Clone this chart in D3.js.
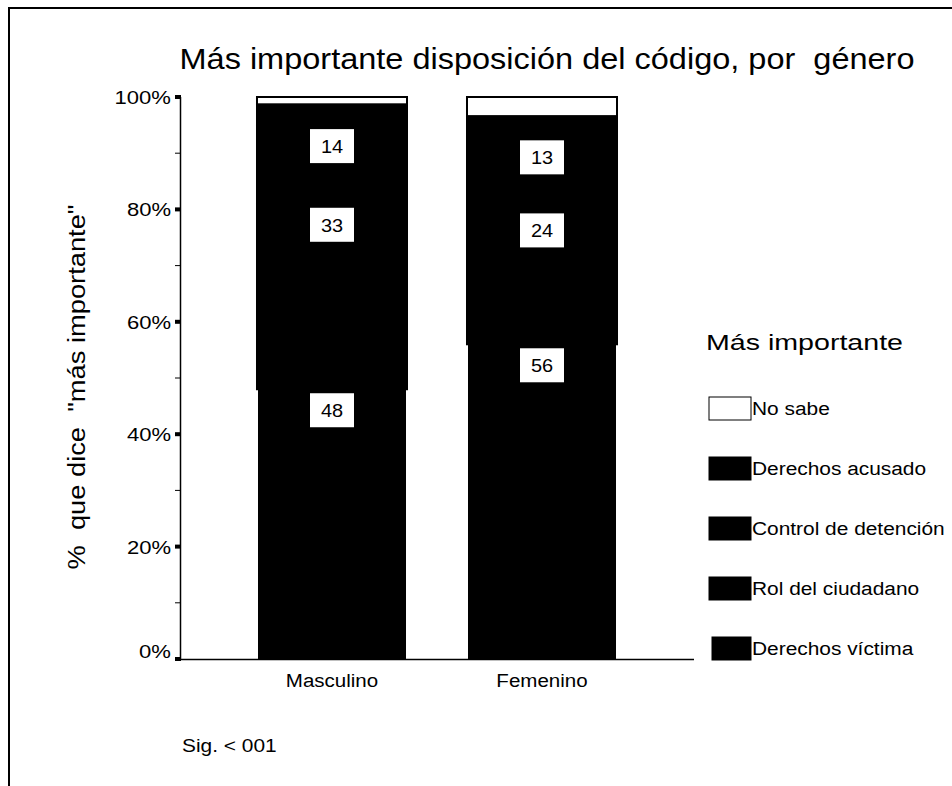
<!DOCTYPE html>
<html><head><meta charset="utf-8">
<script src="https://cdn.jsdelivr.net/npm/d3@7"></script>
<style>body{margin:0;background:#fff}svg{display:block}text{font-family:"Liberation Sans",Arial,sans-serif;fill:#000;white-space:pre}</style>
</head><body>
<svg id="c" width="952" height="786"></svg>
<script>
const categories = ["Masculino", "Femenino"];
const seriesNames = ["Derechos víctima", "Rol del ciudadano", "Control de detención", "Derechos acusado", "No sabe"];
const derechosVictima = [48, 56];
const rolCiudadano = [33, 24];
const controlDetencion = [14, 13];
const derechosAcusado = [3.7, 3.6];
const noSabe = [1.3, 3.4];
const seriesColors = ["#000", "#000", "#000", "#000", "#fff"];
const labeledSeries = [0, 1, 2];
const yTicks = [0, 20, 40, 60, 80, 100];
const yMinorTicks = [10, 30, 50, 70, 90];
const legendOrder = ["No sabe", "Derechos acusado", "Control de detención", "Rol del ciudadano", "Derechos víctima"];

const seriesValues = [derechosVictima, rolCiudadano, controlDetencion, derechosAcusado, noSabe];
const rows = categories.map((c, i) => {
  const r = {cat: c};
  seriesNames.forEach((s, k) => r[s] = seriesValues[k][i]);
  return r;
});
const stack = d3.stack().keys(seriesNames)(rows);

const svg = d3.select("#c");
function fitText(sel, factor) {
  sel.each(function() {
    const w = this.getComputedTextLength();
    this.setAttribute("textLength", (w * factor).toFixed(1));
    this.setAttribute("lengthAdjust", "spacingAndGlyphs");
  });
  return sel;
}

// frame
svg.append("path").attr("d", "M9,786 V8 H952").attr("fill", "none").attr("stroke", "#000").attr("stroke-width", 2);

const x = d3.scaleBand().domain(categories).range([180, 694]).paddingInner(0.2952).paddingOuter(0.3714);
const y = d3.scaleLinear().domain([0, 100]).range([659, 97]);

// title
svg.append("text").attr("x", 547).attr("y", 69).attr("text-anchor", "middle")
  .style("font-size", "29px").attr("textLength", 735).attr("lengthAdjust", "spacingAndGlyphs")
  .text("Más importante disposición del código, por  género");

// bars
stack.forEach((layer, k) => {
  svg.append("g").selectAll("rect").data(layer).join("rect")
    .attr("x", d => x(d.data.cat) - (k > 0 ? 1 : 0))
    .attr("width", x.bandwidth() + (k > 0 ? 2 : 0))
    .attr("y", d => y(d[1]))
    .attr("height", d => y(d[0]) - y(d[1]))
    .attr("fill", seriesColors[k])
    .attr("stroke", k > 0 ? "#000" : "none")
    .attr("stroke-width", 2);
});

// value labels
labeledSeries.forEach(k => {
  const g = svg.append("g");
  stack[k].forEach((d, i) => {
    const cx = x(d.data.cat) + x.bandwidth() / 2;
    const top = y(d[1]) + 4;
    g.append("rect").attr("x", cx - 22).attr("y", top).attr("width", 44).attr("height", 34).attr("fill", "#fff");
    fitText(g.append("text").attr("x", cx).attr("y", top + 24).attr("text-anchor", "middle")
      .style("font-size", "19px").text(seriesValues[k][i]), 1.05);
  });
});

// y axis
const ax = svg.append("g");
ax.append("line").attr("x1", 180.5).attr("x2", 180.5).attr("y1", y(100)).attr("y2", y(0)).attr("stroke", "#000").attr("stroke-width", 1.5);
ax.append("line").attr("x1", 180).attr("x2", 694).attr("y1", 659.5).attr("y2", 659.5).attr("stroke", "#000").attr("stroke-width", 1.5);
yTicks.forEach(t => {
  ax.append("rect").attr("x", 175).attr("y", y(t) - 2).attr("width", 6).attr("height", 4).attr("fill", "#000");
  fitText(ax.append("text").attr("x", 171).attr("y", y(t) + 7 - (t === 0 ? 8 : 0)).attr("text-anchor", "end")
    .style("font-size", "19px").text(t + "%"), 1.16);
});
yMinorTicks.forEach(t => {
  ax.append("line").attr("x1", 175).attr("x2", 181).attr("y1", y(t)).attr("y2", y(t)).attr("stroke", "#000").attr("stroke-width", 1);
});

// x labels
categories.forEach(c => {
  fitText(svg.append("text").attr("x", x(c) + x.bandwidth() / 2).attr("y", 687).attr("text-anchor", "middle")
    .style("font-size", "18px").text(c), 1.14);
});

// y title
svg.append("text").attr("transform", "translate(85,387) rotate(-90)").attr("text-anchor", "middle")
  .style("font-size", "23px").attr("textLength", 365).attr("lengthAdjust", "spacingAndGlyphs")
  .text('%  que dice  "más importante"');

// legend
svg.append("text").attr("x", 706).attr("y", 350).style("font-size", "22px")
  .attr("textLength", 197).attr("lengthAdjust", "spacingAndGlyphs").text("Más importante");
legendOrder.forEach((name, i) => {
  const k = seriesNames.indexOf(name);
  const cy = 408 + i * 60;
  const ox = name === "Derechos víctima" ? 3 : 0;
  svg.append("rect").attr("x", 709 + ox).attr("y", cy - 11).attr("width", 42 - ox).attr("height", 23)
    .attr("fill", seriesColors[k]).attr("stroke", "#000").attr("stroke-width", 1);
  fitText(svg.append("text").attr("x", 752).attr("y", cy + 7).style("font-size", "18px").text(name), 1.16);
});

// note
fitText(svg.append("text").attr("x", 182).attr("y", 752).style("font-size", "18px").text("Sig. < 001"), 1.16);
</script>
</body></html>
